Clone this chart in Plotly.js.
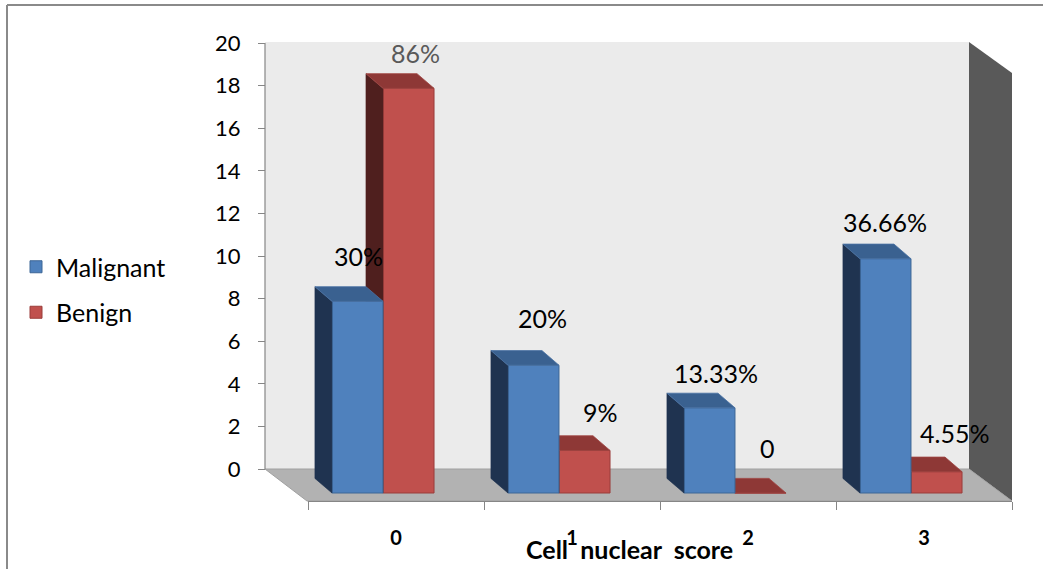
<!DOCTYPE html>
<html>
<head>
<meta charset="utf-8">
<script src="https://cdn.plot.ly/plotly-3.0.1.min.js"></script>
<style>
  html, body { margin: 0; padding: 0; background: #ffffff; }
  #chart { width: 1043px; height: 569px; }
</style>
</head>
<body>
<div id="chart"></div>
<script>
// Cell nuclear score categories
const scores = ['0', '1', '2', '3'];
// Case counts per score
const malignant = [9, 6, 4, 11];
const benign = [19, 2, 0, 1];
// Percentage labels printed above each bar
const malignantPct = ['30%', '20%', '13.33%', '36.66%'];
const benignPct = ['86%', '9%', '0', '4.55%'];
// Value axis ticks
const yTicks = [0, 2, 4, 6, 8, 10, 12, 14, 16, 18, 20];

// ---- layout geometry ----
const W = 1043, H = 569;
const px = p => p / W;          // pixel column -> paper x
const py = p => 1 - p / H;      // pixel row -> paper y
const FONT = 'Lato, "Open Sans", sans-serif';

// value axis: 0 sits on the back wall, the floor reaches a little below it
const Y_MIN = -1.502;
const FRONT_BASE = -1.127;   // front faces of the bars stand lower than the back wall

// bar shape, in axis units
const BAR_W = 0.29;
const MAL_OFF = -0.364;
const BEN_OFF = -0.074;
const DEPTH_X = 0.0966;   // receding depth, leftwards
const DEPTH_Y = 0.687;    // receding depth, upwards

// label placement tweaks (pixels)
const malLift = [45, 47, 35, 37], malShift = [1, 9, 7, 0];
const benLift = [35, 38, 45, 39], benShift = [7, 16, 7, 18];
const benLabelColor = ['#595959', '#000000', '#000000', '#000000'];

// left side face and top face of every bar as fill polygons
function faces(vals, off) {
  const side = { x: [], y: [] }, top = { x: [], y: [] };
  const b = FRONT_BASE;
  vals.forEach((v, i) => {
    const L = i + off, R = L + BAR_W, t = b + v;
    side.x.push(L, L, L - DEPTH_X, L - DEPTH_X, L, null);
    side.y.push(b, t, t + DEPTH_Y, b + DEPTH_Y, b, null);
    top.x.push(L, R, R - DEPTH_X, L - DEPTH_X, L, null);
    top.y.push(t, t, t + DEPTH_Y, t + DEPTH_Y, t, null);
  });
  return { side, top };
}

function seriesTraces(name, vals, off, yref, colors, rank) {
  const f = faces(vals, off);
  return [
    {
      type: 'scatter', mode: 'lines', x: f.side.x, y: f.side.y,
      fill: 'toself', fillcolor: colors.side,
      line: { color: colors.side, width: 0.6 },
      xaxis: 'x', yaxis: yref, showlegend: false, hoverinfo: 'skip'
    },
    {
      type: 'scatter', mode: 'lines', x: f.top.x, y: f.top.y,
      fill: 'toself', fillcolor: colors.top,
      line: { color: colors.topEdge, width: 0.8 },
      xaxis: 'x', yaxis: yref, showlegend: false, hoverinfo: 'skip'
    },
    {
      type: 'bar', name: name, x: scores.map((s, i) => i), y: vals,
      base: FRONT_BASE, width: BAR_W, offset: off,
      marker: { color: colors.front, line: { color: colors.edge, width: 1 } },
      xaxis: 'x', yaxis: yref, legendgroup: name, legendrank: rank,
      hoverinfo: 'skip'
    }
  ];
}

const blue = { front: '#4f81bd', edge: '#3c6696', side: '#1f3350', top: '#3a6190', topEdge: '#4a72a4' };
const red  = { front: '#c0504d', edge: '#9a3d3a', side: '#4f1f1e', top: '#8e3836', topEdge: '#a04441' };

// benign drawn first so the malignant bars sit in front of it
const data = [
  ...seriesTraces('Benign', benign, BEN_OFF, 'y', red, 2),
  ...seriesTraces('Malignant', malignant, MAL_OFF, 'y2', blue, 1)
];

function poly(points) {
  return 'M' + points.map(p => px(p[0]) + ',' + py(p[1])).join('L') + 'Z';
}

const shapes = [
  // back wall
  { type: 'path', xref: 'paper', yref: 'paper', layer: 'below',
    path: poly([[265, 42], [969, 42], [969, 469], [265, 469]]),
    fillcolor: '#ebebeb', line: { width: 0 } },
  // right side wall
  { type: 'path', xref: 'paper', yref: 'paper', layer: 'below',
    path: poly([[969, 42], [1012, 73], [1012, 501], [969, 469]]),
    fillcolor: '#595959', line: { width: 0 } },
  // floor
  { type: 'path', xref: 'paper', yref: 'paper', layer: 'below',
    path: poly([[265, 469], [969, 469], [1012, 501], [307, 501]]),
    fillcolor: '#b2b2b2', line: { color: '#a0a0a0', width: 1 } },
  // value axis line along the back wall edge
  { type: 'line', xref: 'paper', yref: 'y', layer: 'below',
    x0: px(265), x1: px(265), y0: 0, y1: 20, line: { color: '#868686', width: 1.2 } },
  // chart frame (top and left edges)
  { type: 'line', xref: 'paper', yref: 'paper', layer: 'above',
    x0: px(7), x1: 1, y0: py(5), y1: py(5), line: { color: '#8a8a8a', width: 2 } },
  { type: 'line', xref: 'paper', yref: 'paper', layer: 'above',
    x0: px(7), x1: px(7), y0: py(5), y1: 0, line: { color: '#8a8a8a', width: 2 } }
];

const annotations = [];
malignant.forEach((v, i) => annotations.push({
  x: i + MAL_OFF + BAR_W / 2, y: v + FRONT_BASE, xref: 'x', yref: 'y2',
  text: malignantPct[i], showarrow: false, yanchor: 'middle',
  xshift: malShift[i], yshift: malLift[i],
  font: { family: FONT, size: 25, color: '#000000' }
}));
benign.forEach((v, i) => annotations.push({
  x: i + BEN_OFF + BAR_W / 2, y: v + FRONT_BASE, xref: 'x', yref: 'y2',
  text: benignPct[i], showarrow: false, yanchor: 'middle',
  xshift: benShift[i], yshift: benLift[i],
  font: { family: FONT, size: 25, color: benLabelColor[i] }
}));
// axis title
annotations.push({
  x: px(629), y: py(549), xref: 'paper', yref: 'paper',
  text: 'Cell&nbsp;&nbsp;nuclear&nbsp;&nbsp;score', showarrow: false,
  xanchor: 'center', yanchor: 'middle',
  font: { family: FONT, size: 25, color: '#000000', weight: 'bold' }
});

const layout = {
  width: W, height: H,
  margin: { l: 0, r: 0, t: 0, b: 0 },
  paper_bgcolor: '#ffffff',
  plot_bgcolor: 'rgba(0,0,0,0)',
  hovermode: false,
  xaxis: {
    domain: [px(308), px(1012)], range: [-0.5, 3.5],
    anchor: 'free', position: py(501),
    showline: true, linecolor: '#868686', linewidth: 1,
    tickvals: scores.map((s, i) => i), ticktext: scores, ticks: '',
    ticklabelstandoff: 19,
    tickfont: { family: FONT, size: 20, color: '#000000', weight: 'bold' },
    minor: { tickvals: [-0.5, 0.5, 1.5, 2.5, 3.5], ticks: 'outside', ticklen: 8,
             tickcolor: '#868686', tickwidth: 1, showgrid: false },
    showgrid: false, zeroline: false, fixedrange: true
  },
  yaxis: {
    domain: [py(501), py(43)], range: [Y_MIN, 20],
    anchor: 'free', position: px(265),
    showline: false,
    ticks: 'outside', ticklen: 7, tickcolor: '#868686', tickwidth: 1,
    tickvals: yTicks, ticklabelstandoff: 13,
    tickfont: { family: FONT, size: 22, color: '#000000' },
    showgrid: false, zeroline: false, fixedrange: true
  },
  yaxis2: {
    overlaying: 'y', range: [Y_MIN, 20], anchor: 'x',
    visible: false, fixedrange: true
  },
  showlegend: true,
  legend: {
    x: px(16), xanchor: 'left', y: py(244), yanchor: 'top',
    bgcolor: 'rgba(0,0,0,0)', tracegroupgap: 10,
    font: { family: FONT, size: 25, color: '#000000' }
  },
  shapes: shapes,
  annotations: annotations
};

Plotly.newPlot('chart', data, layout, { displayModeBar: false, staticPlot: true });
</script>
</body>
</html>
